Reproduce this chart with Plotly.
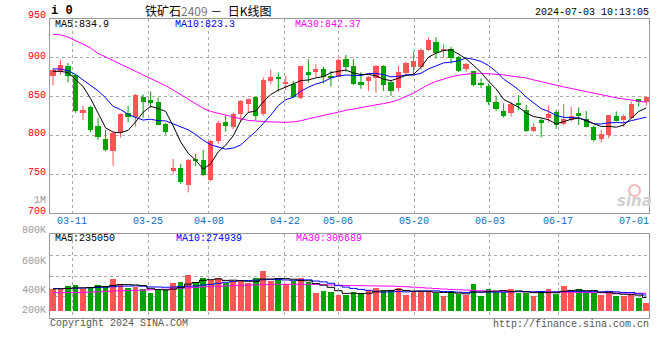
import plotly.graph_objects as go
import pandas as pd

# ---------------- data ----------------
dates = ["03-06","03-07","03-08","03-11","03-12","03-13","03-14","03-15","03-18","03-19",
         "03-20","03-21","03-22","03-25","03-26","03-27","03-28","03-29","04-01","04-02",
         "04-03","04-08","04-09","04-10","04-11","04-12","04-15","04-16","04-17","04-18",
         "04-19","04-22","04-23","04-24","04-25","04-26","04-29","04-30","05-06","05-07",
         "05-08","05-09","05-10","05-13","05-14","05-15","05-16","05-17","05-20","05-21",
         "05-22","05-23","05-24","05-27","05-28","05-29","05-30","05-31","06-03","06-04",
         "06-05","06-06","06-07","06-11","06-12","06-13","06-14","06-17","06-18","06-19",
         "06-20","06-21","06-24","06-25","06-26","06-27","06-28","07-01","07-02","07-03"]

opens = [876.5,882.5,889,877.5,828,836.5,812,795.5,779,803.5,
         828.5,823,849.5,845.5,842.5,814.5,753.5,758,736.5,769.5,
         768.5,742.5,792,816.5,810,827.5,840,848.5,827.5,869,
         875,866,866,847.5,881,881,885.5,876.5,875,898,
         889,868.5,869.5,874,889,868.5,860,880.5,887.5,888,
         910,919.5,908.5,910.5,900.5,885.5,882.5,867,863,843,
         831,829,841.5,832.5,805.5,819.5,822,829.5,814,819.5,
         828.5,821,810.5,795.5,800.5,825,819.5,822.5,846.5,842]
highs = [886,896.5,892.5,878.5,838,837.5,822.5,807,804.5,828,
         837.5,853,852.5,856,848.5,815.5,769.5,763,769.5,776,
         781,794,818.5,826,829,845,847.5,849,874.5,884,
         880.5,876,869.5,889,897.5,891,888,882.5,898.5,903,
         898,881,876,890,890,870,889,894.5,907.5,911.5,
         926,926,917,913.5,902,893,882.5,873,866.5,850.5,
         841,843,851.5,839,815.5,822,838,832.5,840,836.5,
         835.5,831,812.5,807,826,830.5,827,843,846.5,849]
lows = [864,877.5,868,828.5,819.5,803.5,794,779,760.5,797,
        816.5,811,822.5,835,812.5,800.5,750,737,726.5,760,
        747,740.5,789,804.5,807.5,817.5,829,819.5,825,866,
        856,858,847.5,846,867.5,874.5,866.5,862.5,874.5,881.5,
        864.5,859.5,857,854.5,857,850.5,856,877.5,877.5,884.5,
        908.5,898.5,899.5,892,881,881,862.5,860.5,839,831,
        822.5,824,832.5,804,804,797,816.5,808,812.5,817.5,
        813,810,792,790.5,796,817.5,810.5,821,836.5,838]
closes = [884,890,876.5,830.5,832,807,797,780.5,803,827.5,
          823,851,842.5,841.5,813,804.5,758,739.5,768.5,767.5,
          748.5,792,816,812,827.5,844,846.5,825,871,874.5,
          872,866.5,848.5,889,878.5,885.5,874.5,874.5,897,887,
          866,865,875,889,864.5,857,881,892.5,895.5,910,
          922.5,906,910,899.5,883,891.5,864.5,864.5,843,834,
          824,840,839,805.5,810.5,816,827.5,812.5,821,825,
          824,811,794,801.5,826,818.5,825,840,843,848.5]

volumes = [375,375,427,444,375,410,444,427,548,462,
           398,415,375,312,358,369,479,502,617,496,
           565,531,565,490,514,514,485,565,687,519,
           554,473,519,565,502,312,340,329,271,271,
           323,312,358,392,358,358,392,271,346,346,
           346,312,254,346,289,283,473,254,375,335,
           335,375,312,312,254,340,375,300,427,340,
           375,312,312,271,340,262,262,280,225,135]  # thousands

ma5_head = [882,882,880.5,872]
ma10_head = [885,885,883,878,871,864,857,848,837]
ma30 = [929.5,929,926,922,917,912,905,900.5,896,891.5,
        887,882.5,877.5,873,868.5,863.5,858,852,846,840,
        834.5,830.5,828,825.5,823,821,819,818,817.5,817,
        816.5,816.5,817,818.5,821,823.5,825.5,827.5,829.5,832,
        833.5,835.5,837,839,840.5,842.5,845.5,849.5,854,859.5,
        865,869,872.5,875,877,878.5,879.5,879.5,879,878.5,
        877.5,876,875,873.5,871,868.5,866,864,862,860,
        858,856,853.5,851.5,849.5,848,846.5,845,843.5,842.37]

vol_ma5_head = [385,385,390,400]
vol_ma10_head = [387,387,390,395,398,402,408,412,420]
vol_ma30 = [318,318,319,320,322,326,332,340,346,350,
            353,356,362,368,372,376,382,392,402,410,
            416,422,428,434,440,444,448,452,456,458,
            460,462,462,462,460,458,455,450,446,442,
            440,438,436,434,432,430,426,420,412,404,
            396,388,380,374,368,362,356,350,346,342,
            339,336,334,332,330,329,328,327,326,325,
            323,320,318,316,314,312,310,309,308,306.689]

label_dates = ["03-11","03-25","04-08","04-22","05-06","05-20","06-03","06-17","07-01"]
grid_dates = label_dates[:-1]
price_labels = [950, 900, 850, 800, 750, 700]
price_grid = [900, 850, 800, 750]
vol_labels = ["1M", "800K", "600K", "400K", "200K"]
legend_main = ["MA5:834.9", "MA10:823.3", "MA30:842.37"]
legend_vol = ["MA5:235050", "MA10:274939", "MA30:306689"]

# ---------------- derived ----------------
n = len(dates)
xi = list(range(n))
cs = pd.Series(closes)
ma5 = cs.rolling(5).mean().tolist()
ma5[:4] = ma5_head
ma10 = cs.rolling(10).mean().tolist()
ma10[:9] = ma10_head
vs = pd.Series(volumes) * 1000
vma5 = vs.rolling(5).mean().tolist()
vma5[:4] = [v * 1000 for v in vol_ma5_head]
vma10 = vs.rolling(10).mean().tolist()
vma10[:9] = [v * 1000 for v in vol_ma10_head]
vma30 = [v * 1000 for v in vol_ma30]

RED = "#FF5555"
GREEN = "#00A300"
up = [c >= o for o, c in zip(opens, closes)]
colors = [RED if u else GREEN for u in up]

# geometry helpers (pixels -> paper)
PL, PR, PT, PB = 50, 649, 19, 318
def px(x):
    return (x - PL) / (PR - PL)
def py(y):
    return (PB - y) / (PB - PT)

def gpos(d):
    i = dates.index(d)
    return i * 1.0112 - 0.466

MONO = "Liberation Mono"

fig = go.Figure()

# wicks
for col, flag in ((RED, True), (GREEN, False)):
    wx, wy = [], []
    for i in xi:
        if up[i] == flag:
            wx += [i, i, None]
            wy += [lows[i], highs[i], None]
    fig.add_trace(go.Scatter(x=wx, y=wy, mode="lines", line=dict(color=col, width=1),
                             hoverinfo="skip", showlegend=False, xaxis="x", yaxis="y"))

# bodies
fig.add_trace(go.Bar(x=xi, base=[min(o, c) for o, c in zip(opens, closes)],
                     y=[max(abs(c - o), 1.3) for o, c in zip(opens, closes)],
                     width=0.7, marker=dict(color=colors, line=dict(width=0)),
                     showlegend=False, xaxis="x", yaxis="y"))

# price MAs
for vals, col in ((ma30, "#FF00FF"), (ma10, "#0000FF"), (ma5, "#000000")):
    fig.add_trace(go.Scatter(x=xi, y=vals, mode="lines", line=dict(color=col, width=1),
                             showlegend=False, xaxis="x", yaxis="y"))

# volume
fig.add_trace(go.Bar(x=xi, y=list(vs), width=0.75, marker=dict(color=colors, line=dict(width=0)),
                     showlegend=False, xaxis="x2", yaxis="y2"))
for vals, col in ((vma30, "#FF00FF"), (vma10, "#0000FF"), (vma5, "#000000")):
    fig.add_trace(go.Scatter(x=xi, y=vals, mode="lines", line=dict(color=col, width=1, shape="hvh"),
                             showlegend=False, xaxis="x2", yaxis="y2"))

grid_x = [gpos(d) for d in grid_dates]
axis_common = dict(showline=True, linecolor="#999999", linewidth=1, mirror=True,
                   zeroline=False, ticks="", showticklabels=False,
                   gridcolor="#AAAAAA", griddash="dot", gridwidth=1)

VPX = 17300.0  # volume units per pixel, base at y=311
def vval(ypx):
    return (311 - ypx) * VPX

fig.update_layout(
    width=660, height=360,
    margin=dict(l=PL, r=660 - PR, t=PT, b=360 - PB),
    paper_bgcolor="white", plot_bgcolor="white",
    bargap=0, barmode="overlay",
    xaxis=dict(domain=[0, 1], range=[-0.4, 79.36], anchor="y", tickvals=grid_x, showgrid=True, **axis_common),
    yaxis=dict(domain=[py(213), 1], range=[699.9, 949.3], tickvals=price_grid, showgrid=True, **axis_common),
    xaxis2=dict(domain=[0, 1], range=[-0.4, 79.36], anchor="y2", matches="x", tickvals=grid_x, showgrid=True, **axis_common),
    yaxis2=dict(domain=[0, py(234)], range=[vval(318), vval(234)],
                tickvals=[vval(255), vval(276), vval(296)], showgrid=True, **axis_common),
    hovermode=False,
)

ann = []
def A(text, x, y, color="#000000", size=10, xanchor="left", family=MONO, xref="paper", **kw):
    ann.append(dict(text=text, x=x, y=y, xref=xref, yref="paper", showarrow=False,
                    xanchor=xanchor, yanchor="middle", font=dict(family=family, size=size, color=color),
                    borderpad=0, **kw))

NB = "\u00a0"
# header
A("<b>i 0</b>", px(50), py(11.5), size=12)
A("铁矿石<span style='color:#777777'>2409</span>" + NB + "－" + NB + NB + "日K线图", px(207.5), py(10.3), size=12,
  xanchor="center", family="Noto Sans CJK SC")
A("2024-07-03 10:13:05", px(650), py(12), xanchor="right")

# main legend
for t, xx, col in zip(legend_main, (54, 174, 294), ("#000000", "#0000FF", "#FF00FF")):
    A(t, px(xx), py(24.3), color=col)
# volume legend
for t, xx, col in zip(legend_vol, (54, 175, 295), ("#000000", "#0000FF", "#FF00FF")):
    A(t, px(xx), py(238.5), color=col)

# price labels
for p in price_labels:
    ypx = 19 + (949.3 - p) / (949.3 - 699.9) * 194 - (2.5 if p == 950 else 1.2)
    A(str(p), px(47), py(ypx), color="#FF0000", xanchor="right")
# volume labels
for t, ypx in zip(vol_labels, (200.7, 230, 261, 290, 310)):
    A(t, px(47), py(ypx), color="#999999", xanchor="right")

# date labels
for d in label_dates:
    A(d, gpos(d), py(221.7), color="#0A6EC8", xanchor="center", xref="x")

# footer
A("Copyright 2024 SINA.COM", px(49), py(323.5), color="#555555")
A("http://finance.sina.com.cn", px(650), py(324), color="#555555", xanchor="right")

# sina watermark
A("<b><i>sina</i></b>", px(634), py(201), color="#D0D0D0", size=15, xanchor="center", family="DejaVu Sans")

fig.update_layout(annotations=ann)
fig.add_shape(type="circle", xref="paper", yref="paper",
              x0=px(629), x1=px(640), y0=py(196), y1=py(185),
              line=dict(color="#F2B8B8", width=2), fillcolor="rgba(0,0,0,0)")

fig.write_html("out.html", config={"displayModeBar": False},
               post_script="document.body.style.margin='0px';document.body.style.padding='0px';")
